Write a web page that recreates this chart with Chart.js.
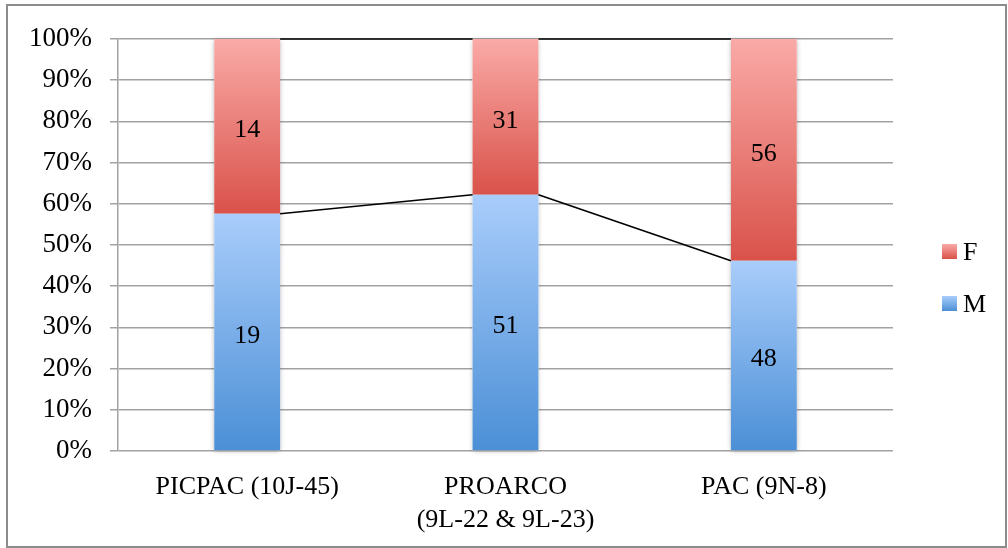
<!DOCTYPE html>
<html>
<head>
<meta charset="utf-8">
<script src="https://cdn.jsdelivr.net/npm/chart.js@4/dist/chart.umd.min.js"></script>
<style>
  html, body { margin: 0; padding: 0; background: #ffffff; }
  #wrap { width: 1008px; height: 548px; }
</style>
</head>
<body>
<div id="wrap"><canvas id="c" width="1008" height="548"></canvas></div>
<script>
// Groups and head counts per sex
const categories = [['PICPAC (10J-45)'], ['PROARCO', '(9L-22 & 9L-23)'], ['PAC (9N-8)']];
const seriesNames = ['M', 'F'];
const countM = [19, 51, 48];
const countF = [14, 31, 56];
const yTickLabels = ['0%', '10%', '20%', '30%', '40%', '50%', '60%', '70%', '80%', '90%', '100%'];

// Gradient colours (top, bottom) for each series
const gradM = ['#a9cdfb', '#4b8fd6'];
const gradF = ['#faaaa7', '#d9524a'];

const FONT = "'Liberation Serif', 'Times New Roman', serif";
const counts = [countM, countF];
const grads = [gradM, gradF];

// 100% stacked shares computed from the counts
const totals = countM.map((m, i) => m + countF[i]);
const shareM = countM.map((m, i) => m / totals[i] * 100);
const shareF = countF.map((f, i) => f / totals[i] * 100);
const shares = [shareM, shareF];

function segmentBounds(ds, i) {
  let lo = 0;
  for (let k = 0; k < ds; k++) lo += shares[k][i];
  return [lo, lo + shares[ds][i]];
}

function segmentFill(ds) {
  return function (c) {
    const chart = c.chart;
    const y = chart.scales && chart.scales.y;
    if (!y || c.type !== 'data' || !isFinite(y.top)) return grads[ds][1];
    const [lo, hi] = segmentBounds(ds, c.dataIndex);
    const yTop = y.getPixelForValue(hi);
    const yBot = y.getPixelForValue(lo);
    const g = chart.ctx.createLinearGradient(0, yTop, 0, yBot);
    g.addColorStop(0, grads[ds][0]);
    g.addColorStop(1, grads[ds][1]);
    return g;
  };
}

// White frame with a grey outline
const framePlugin = {
  id: 'frame',
  beforeDraw(chart) {
    const ctx = chart.ctx;
    ctx.save();
    ctx.fillStyle = '#ffffff';
    ctx.fillRect(0, 0, chart.width, chart.height);
    ctx.strokeStyle = '#8c8c8c';
    ctx.lineWidth = 2;
    ctx.strokeRect(7, 5, chart.width - 9, chart.height - 6);
    ctx.restore();
  }
};

// Soft shadow behind each whole stacked column
const shadowPlugin = {
  id: 'columnShadow',
  beforeDatasetsDraw(chart) {
    const ctx = chart.ctx;
    const base = chart.getDatasetMeta(0).data;
    const top = chart.getDatasetMeta(chart.data.datasets.length - 1).data;
    ctx.save();
    ctx.shadowColor = 'rgba(0,0,0,0.35)';
    ctx.shadowBlur = 5;
    ctx.shadowOffsetX = 0;
    ctx.shadowOffsetY = 1;
    ctx.fillStyle = '#ffffff';
    base.forEach((el, i) => {
      const t = top[i];
      ctx.fillRect(el.x - el.width / 2, t.y, el.width, el.base - t.y);
    });
    ctx.restore();
  }
};

// Series lines joining the tops of matching segments
const seriesLinesPlugin = {
  id: 'seriesLines',
  afterDatasetsDraw(chart) {
    const ctx = chart.ctx;
    ctx.save();
    ctx.strokeStyle = '#000000';
    ctx.lineWidth = 1.6;
    chart.data.datasets.forEach((d, ds) => {
      const els = chart.getDatasetMeta(ds).data;
      for (let i = 0; i < els.length - 1; i++) {
        const a = els[i], b = els[i + 1];
        ctx.beginPath();
        ctx.moveTo(a.x + a.width / 2, a.y);
        ctx.lineTo(b.x - b.width / 2, b.y);
        ctx.stroke();
      }
    });
    ctx.restore();
  }
};

// Head counts written in the middle of each segment
const countLabelsPlugin = {
  id: 'countLabels',
  afterDatasetsDraw(chart) {
    const ctx = chart.ctx;
    ctx.save();
    ctx.font = '26px ' + FONT;
    ctx.fillStyle = '#000000';
    ctx.textAlign = 'center';
    ctx.textBaseline = 'middle';
    chart.data.datasets.forEach((d, ds) => {
      chart.getDatasetMeta(ds).data.forEach((el, i) => {
        ctx.fillText(String(counts[ds][i]), el.x, (el.y + el.base) / 2 + 4);
      });
    });
    ctx.restore();
  }
};

// Legend on the right, last series on top
const sideLegendPlugin = {
  id: 'sideLegend',
  afterDraw(chart) {
    const ctx = chart.ctx;
    const x = chart.chartArea.right + 49;
    const box = 15;
    const yTop = 244;
    const gap = 52;
    ctx.save();
    ctx.font = '26px ' + FONT;
    ctx.fillStyle = '#000000';
    ctx.textBaseline = 'middle';
    const order = chart.data.datasets.map((d, i) => i).reverse();
    order.forEach((ds, k) => {
      const y = yTop + k * gap;
      const g = ctx.createLinearGradient(0, y, 0, y + box);
      g.addColorStop(0, grads[ds][0]);
      g.addColorStop(1, grads[ds][1]);
      ctx.fillStyle = g;
      ctx.fillRect(x, y, box, box);
      ctx.fillStyle = '#000000';
      ctx.fillText(chart.data.datasets[ds].label, x + 21, y + box / 2 + 2);
    });
    ctx.restore();
  }
};

const gridColor = '#a2a2a2';

new Chart(document.getElementById('c'), {
  type: 'bar',
  data: {
    labels: categories,
    datasets: seriesNames.map((name, ds) => ({
      label: name,
      data: shares[ds],
      backgroundColor: segmentFill(ds),
      borderWidth: 0,
      categoryPercentage: 1,
      barPercentage: 0.255
    }))
  },
  options: {
    responsive: false,
    animation: false,
    devicePixelRatio: 1,
    layout: { padding: { left: 0, right: 115, top: 39, bottom: 0 } },
    plugins: {
      legend: { display: false },
      tooltip: { enabled: false }
    },
    scales: {
      x: {
        stacked: true,
        grid: { display: false },
        border: { display: false },
        ticks: {
          color: '#000000',
          padding: 12,
          font: { family: FONT, size: 26, lineHeight: 1.25 },
          maxRotation: 0,
          autoSkip: false
        },
        afterFit(scale) { scale.height = 97; }
      },
      y: {
        stacked: true,
        min: 0,
        max: 100,
        grid: { color: gridColor, lineWidth: 1.5, tickLength: 8, drawTicks: true },
        border: { display: true, color: gridColor, width: 1.5 },
        ticks: {
          stepSize: 10,
          color: '#000000',
          padding: 18,
          font: { family: FONT, size: 27 },
          callback: (v) => yTickLabels[Math.round(v / 10)]
        },
        afterFit(scale) { scale.width = 118; }
      }
    }
  },
  plugins: [framePlugin, shadowPlugin, seriesLinesPlugin, countLabelsPlugin, sideLegendPlugin]
});
</script>
</body>
</html>
